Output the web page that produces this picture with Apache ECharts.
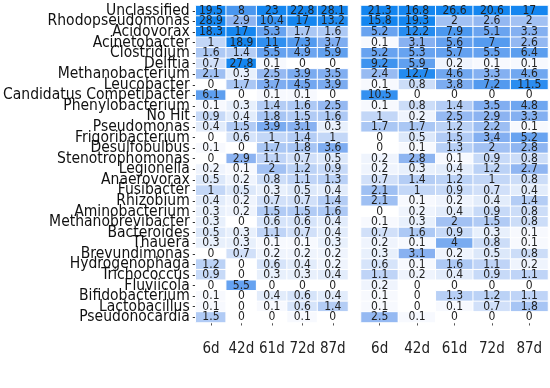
<!DOCTYPE html>
<html><head><meta charset="utf-8">
<script src="https://cdn.jsdelivr.net/npm/echarts@6/dist/echarts.min.js"></script>
<style>html,body{margin:0;padding:0;background:#fff}#c{width:550px;height:388px}</style>
</head><body><div id="c"></div>
<script>
const genera = ["Unclassified","Rhodopseudomonas","Acidovorax","Acinetobacter","Clostridium","Delftia","Methanobacterium","Leucobacter","Candidatus Competibacter","Phenylobacterium","No Hit","Pseudomonas","Frigoribacterium","Desulfobulbus","Stenotrophomonas","Legionella","Anaerovorax","Fusibacter","Rhizobium","Aminobacterium","Methanobrevibacter","Bacteroides","Thauera","Brevundimonas","Hydrogenophaga","Trichococcus","Fluviicola","Bifidobacterium","Lactobacillus","Pseudonocardia"];
const days = ["6d","42d","61d","72d","87d"];
const leftValues = [
 [19.5,8,23,22.8,28.1],
 [28.9,2.9,10.4,17,13.2],
 [18.3,17,5.3,1.7,1.6],
 [1,18.9,11,7.3,3.7],
 [1.6,1.4,5.5,4.9,5.9],
 [0.7,27.8,0.1,0,0],
 [2.1,0.3,2.5,3.9,3.5],
 [0,1.7,3.7,4.5,3.9],
 [6.1,0,0.1,0.1,0],
 [0.1,0.3,1.4,1.6,2.5],
 [0.9,0.4,1.8,1.5,1.6],
 [0.4,1.5,3.9,3.1,0.3],
 [0,0.6,1,1.4,1],
 [0.1,0,1.7,1.8,3.6],
 [0,2.9,1.1,0.7,0.5],
 [0.2,0.1,2,1.2,0.9],
 [0.5,0.2,0.8,1.1,1.3],
 [1,0.5,0.3,0.5,0.4],
 [0.4,0.2,0.7,0.7,1.4],
 [0.3,0.2,1.5,1.5,1.6],
 [0.3,0,0.6,0.6,0.4],
 [0.5,0.3,1.1,0.7,0.4],
 [0.3,0.3,0.1,0.1,0.3],
 [0,0.7,0.2,0.2,0.2],
 [1.2,0,0.6,0.4,0.2],
 [0.9,0,0.3,0.3,0.4],
 [0,5.5,0,0,0],
 [0.1,0,0.4,0.6,0.4],
 [0.1,0,0.1,0.6,1.4],
 [1.5,0,0,0.1,0]
];
const rightValues = [
 [21.3,16.8,26.6,20.6,17],
 [15.8,19.3,2,2.6,2],
 [5.2,12.2,7.9,5.1,3.3],
 [0.1,3.1,5.6,7,2.6],
 [5.2,5.3,5.7,5.5,6.4],
 [9.2,5.9,0.2,0.1,0.1],
 [2.4,12.7,4.6,3.3,4.6],
 [0.1,0.8,3.8,7.2,11.5],
 [10.5,0,0,0,0],
 [0.1,0.8,1.4,3.5,4.8],
 [1,0.2,2.5,2.9,3.3],
 [1.7,1.7,1.2,2.2,0.1],
 [0,0.5,1.5,3.4,5.2],
 [0,0.1,1.3,2,2.8],
 [0.2,2.8,0.1,0.9,0.8],
 [0.2,0.3,0.4,1.2,2.7],
 [0.7,1.4,1.2,1,0.8],
 [2.1,1,0.9,0.7,0.4],
 [2.1,0.1,0.2,0.4,1.4],
 [0,0.2,0.4,0.9,0.8],
 [0.1,0.3,2,1.5,0.8],
 [0.7,1.6,0.9,0.3,0.1],
 [0.2,0.1,4,0.8,0.1],
 [0.3,3.1,0.2,0.5,0.8],
 [0.6,0.1,1.6,1.1,0.2],
 [1.1,0.2,0.4,0.9,1.1],
 [0.2,0,0,0,0],
 [0.1,0,1.3,1.2,1.1],
 [0.1,0,0.1,0.7,1.8],
 [2.5,0.1,0,0,0]
];

function toData(vals){
  const out=[];
  vals.forEach((row,yi)=>row.forEach((v,xi)=>out.push([xi,yi,v,Math.log(1+v)])));
  return out;
}
const NARROW = "'Liberation Sans Narrow','Arial Narrow','DejaVu Sans Condensed',sans-serif";
const chart = echarts.init(document.getElementById('c'));
const grids=[{left:162,top:5.5,width:186,height:317},{left:361,top:5.5,width:187,height:317}];
function xAxis(i){return {type:'category',data:days,gridIndex:i,
  axisLine:{show:false},axisTick:{show:true,length:3,alignWithLabel:true,lineStyle:{color:'#555'}},
  axisLabel:{margin:19,fontSize:15,color:'#222',fontFamily:NARROW,interval:0},splitLine:{show:false}};}
function yAxis(i){return {type:'category',data:genera,gridIndex:i,inverse:true,
  axisLine:{show:false},axisTick:{show:i===0,length:3,alignWithLabel:true,lineStyle:{color:'#333'}},
  axisLabel:{show:i===0,interval:0,margin:6,fontSize:15.5,color:'#111',fontFamily:NARROW,lineHeight:12},splitLine:{show:false}};}
function series(i,vals){return {type:'heatmap',xAxisIndex:i,yAxisIndex:i,data:toData(vals),
  itemStyle:{borderColor:'#fff',borderWidth:1},
  label:{show:true,fontSize:12,color:'#222',fontFamily:NARROW,formatter:p=>String(p.value[2])},
  emphasis:{disabled:true}};}
chart.setOption({
  animation:false,
  grid:grids,
  xAxis:[xAxis(0),xAxis(1)],
  yAxis:[yAxis(0),yAxis(1)],
  visualMap:{show:false,type:'continuous',dimension:3,min:0,max:Math.log(16),seriesIndex:[0,1],
    inRange:{color:['#ffffff','#c3d7f7','#8ab2f1','#559bef','#1486f0']}},
  series:[series(0,leftValues),series(1,rightValues)]
});
</script></body></html>
